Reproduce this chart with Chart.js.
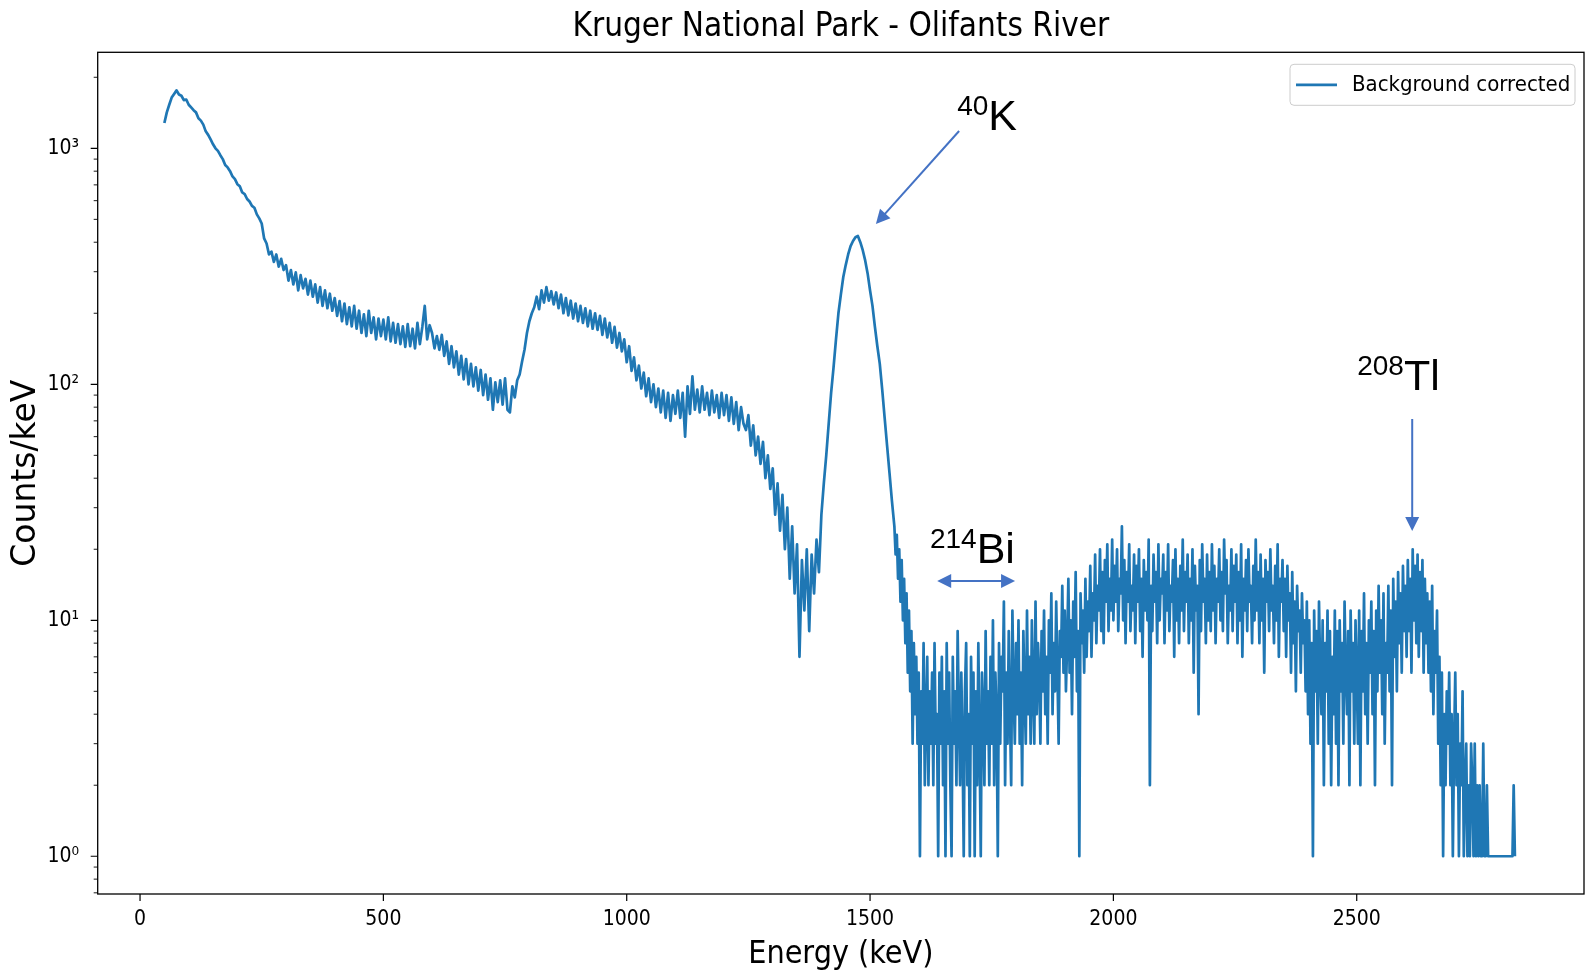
<!DOCTYPE html>
<html>
<head>
<meta charset="utf-8">
<script src="https://cdn.jsdelivr.net/npm/chart.js@4.4.1/dist/chart.umd.min.js"></script>
<style>
html,body{margin:0;padding:0;background:#fff;}
canvas{display:block;}
</style>
</head>
<body>
<canvas id="c" width="1585" height="976"></canvas>
<script>
// ---------------- DATA ----------------
const chartTitle = 'Kruger National Park - Olifants River';
const xAxisTitle = 'Energy (keV)';
const yAxisTitle = 'Counts/keV';
const seriesLabel = 'Background corrected';

const energies = [
50,55,60,65,70,75,80,85,90,95,
100,105,110,115,120,125,130,135,140,145,
150,155,160,165,170,175,180,185,190,195,
200,205,210,215,220,225,230,235,240,245,
250,255,260,265,270,275,280,285,290,295,
300,305,310,315,320,325,330,335,340,345,
350,355,360,365,370,375,380,385,390,395,
400,405,410,415,420,425,430,435,440,445,
450,455,460,465,470,475,480,485,490,495,
500,505,510,515,520,525,530,535,540,545,
550,555,560,565,570,575,580,585,590,595,
600,605,610,615,620,625,630,635,640,645,
650,655,660,665,670,675,680,685,690,695,
700,705,710,715,720,725,730,735,740,745,
750,755,760,765,770,775,780,785,790,795,
800,805,810,815,820,825,830,835,840,845,
850,855,860,865,870,875,880,885,890,895,
900,905,910,915,920,925,930,935,940,945,
950,955,960,965,970,975,980,985,990,995,
1000,1005,1010,1015,1020,1025,1030,1035,1040,1045,
1050,1055,1060,1065,1070,1075,1080,1085,1090,1095,
1100,1105,1110,1115,1120,1125,1130,1135,1140,1145,
1150,1155,1160,1165,1170,1175,1180,1185,1190,1195,
1200,1205,1210,1215,1220,1225,1230,1235,1240,1245,
1250,1255,1260,1265,1270,1275,1280,1285,1290,1295,
1300,1305,1310,1315,1320,1325,1330,1335,1340,1345,
1350,1355,1360,1365,1370,1375,1380,1385,1390,1395,
1400,1405,1410,1415,1420,1425,1430,1435,1440,1445,
1450,1455,1460,1465,1470,1475,1480,1485,1490,1495,
1500,1505,1510,1515,1520,1525,1530,1535,1540,1545,
1550,1552.5,1555,1557.5,1560,1562.5,1565,1567.5,1570,1572.5,1575,1577.5,1580,1582.5,1585,1587.5,1590,1592.5,1595,1597.5,
1600,1602.5,1605,1607.5,1610,1612.5,1615,1617.5,1620,1622.5,1625,1627.5,1630,1632.5,1635,1637.5,1640,1642.5,1645,1647.5,
1650,1652.5,1655,1657.5,1660,1662.5,1665,1667.5,1670,1672.5,1675,1677.5,1680,1682.5,1685,1687.5,1690,1692.5,1695,1697.5,
1700,1702.5,1705,1707.5,1710,1712.5,1715,1717.5,1720,1722.5,1725,1727.5,1730,1732.5,1735,1737.5,1740,1742.5,1745,1747.5,
1750,1752.5,1755,1757.5,1760,1762.5,1765,1767.5,1770,1772.5,1775,1777.5,1780,1782.5,1785,1787.5,1790,1792.5,1795,1797.5,
1800,1802.5,1805,1807.5,1810,1812.5,1815,1817.5,1820,1822.5,1825,1827.5,1830,1832.5,1835,1837.5,1840,1842.5,1845,1847.5,
1850,1852.5,1855,1857.5,1860,1862.5,1865,1867.5,1870,1872.5,1875,1877.5,1880,1882.5,1885,1887.5,1890,1892.5,1895,1897.5,
1900,1902.5,1905,1907.5,1910,1912.5,1915,1917.5,1920,1922.5,1925,1927.5,1930,1932.5,1935,1937.5,1940,1942.5,1945,1947.5,
1950,1952.5,1955,1957.5,1960,1962.5,1965,1967.5,1970,1972.5,1975,1977.5,1980,1982.5,1985,1987.5,1990,1992.5,1995,1997.5,
2000,2002.5,2005,2007.5,2010,2012.5,2015,2017.5,2020,2022.5,2025,2027.5,2030,2032.5,2035,2037.5,2040,2042.5,2045,2047.5,
2050,2052.5,2055,2057.5,2060,2062.5,2065,2067.5,2070,2072.5,2075,2077.5,2080,2082.5,2085,2087.5,2090,2092.5,2095,2097.5,
2100,2102.5,2105,2107.5,2110,2112.5,2115,2117.5,2120,2122.5,2125,2127.5,2130,2132.5,2135,2137.5,2140,2142.5,2145,2147.5,
2150,2152.5,2155,2157.5,2160,2162.5,2165,2167.5,2170,2172.5,2175,2177.5,2180,2182.5,2185,2187.5,2190,2192.5,2195,2197.5,
2200,2202.5,2205,2207.5,2210,2212.5,2215,2217.5,2220,2222.5,2225,2227.5,2230,2232.5,2235,2237.5,2240,2242.5,2245,2247.5,
2250,2252.5,2255,2257.5,2260,2262.5,2265,2267.5,2270,2272.5,2275,2277.5,2280,2282.5,2285,2287.5,2290,2292.5,2295,2297.5,
2300,2302.5,2305,2307.5,2310,2312.5,2315,2317.5,2320,2322.5,2325,2327.5,2330,2332.5,2335,2337.5,2340,2342.5,2345,2347.5,
2350,2352.5,2355,2357.5,2360,2362.5,2365,2367.5,2370,2372.5,2375,2377.5,2380,2382.5,2385,2387.5,2390,2392.5,2395,2397.5,
2400,2402.5,2405,2407.5,2410,2412.5,2415,2417.5,2420,2422.5,2425,2427.5,2430,2432.5,2435,2437.5,2440,2442.5,2445,2447.5,
2450,2452.5,2455,2457.5,2460,2462.5,2465,2467.5,2470,2472.5,2475,2477.5,2480,2482.5,2485,2487.5,2490,2492.5,2495,2497.5,
2500,2502.5,2505,2507.5,2510,2512.5,2515,2517.5,2520,2522.5,2525,2527.5,2530,2532.5,2535,2537.5,2540,2542.5,2545,2547.5,
2550,2552.5,2555,2557.5,2560,2562.5,2565,2567.5,2570,2572.5,2575,2577.5,2580,2582.5,2585,2587.5,2590,2592.5,2595,2597.5,
2600,2602.5,2605,2607.5,2610,2612.5,2615,2617.5,2620,2622.5,2625,2627.5,2630,2632.5,2635,2637.5,2640,2642.5,2645,2647.5,
2650,2652.5,2655,2657.5,2660,2662.5,2665,2667.5,2670,2672.5,2675,2677.5,2680,2682.5,2685,2687.5,2690,2692.5,2695,2697.5,
2700,2702.5,2705,2707.5,2710,2712.5,2715,2717.5,2720,2722.5,2725,2727.5,2730,2732.5,2735,2737.5,2740,2742.5,2745,2747.5,
2750,2752.5,2755,2757.5,2760,2762.5,2765,2767.5,2770,2772.5,2775,2777.5,2780,2782.5,2785,2787.5,2790,2792.5,2795,2797.5,
2800,2802.5,2805,2807.5,2810,2812.5,2815,2817.5,2820,2822.5,2825
];

const counts = [
1280,1420,1530,1640,1700,1760,1690,1670,1600,1610,
1530,1490,1450,1420,1340,1310,1260,1180,1140,1090,
1040,1000,975,935,900,850,830,800,760,740,
705,690,650,640,610,595,570,560,525,505,
480,415,395,355,365,330,355,315,340,305,
320,275,305,265,298,250,290,255,280,240,
275,235,265,222,258,215,250,210,242,205,
232,195,225,185,220,180,212,176,215,172,
205,165,198,160,205,165,192,155,190,160,
188,155,192,152,182,150,180,148,176,144,
180,145,172,142,182,148,175,215,155,178,
165,142,160,140,162,132,152,122,145,118,
138,110,132,105,128,100,122,98,118,94,
115,90,110,86,106,78,102,84,104,82,
106,78,76,98,88,104,110,125,140,165,
185,200,212,235,208,250,222,258,226,248,
218,245,210,240,200,232,196,226,190,220,
185,215,182,210,176,205,172,200,170,195,
162,190,158,182,150,175,143,165,138,155,
124,145,114,130,104,120,96,112,89,106,
84,100,80,96,76,94,72,92,70,90,
75,94,72,92,60,98,75,108,78,95,
76,98,78,92,74,94,76,90,72,92,
74,90,70,88,68,84,64,80,68,64,
74,55,67,50,60,46,57,40,50,36,
44,28,38,24,34,20,30,15,25,13,
21,7,18,11,20,9,19,13,22,16,
28,38,50,68,92,118,155,200,240,285,
320,355,385,405,420,425,400,370,335,295,
250,215,175,145,122,95,72,55,42,32,
25,19,23,15,20,12,18,10,15,8,13,6,11,5,9,3,8,4,7,3,
6,1,5,3,8,2,4,7,2,5,3,6,2,8,3,4,1,6,3,7,
2,5,1,8,3,6,2,1,7,3,5,2,9,4,2,6,3,1,5,8,
2,4,1,7,3,6,1,5,2,8,3,1,6,4,2,9,3,5,2,7,
3,10,2,6,4,1,8,3,7,5,12,2,6,3,9,4,2,11,5,3,
8,4,10,3,6,2,9,5,3,11,4,7,3,10,5,3,12,4,8,6,
3,9,5,11,4,7,3,10,6,13,4,8,5,12,6,3,9,7,14,6,
11,5,8,15,6,10,4,12,7,16,5,9,1,13,8,11,6,15,7,12,
9,17,7,13,10,19,8,14,11,20,9,16,8,18,12,21,9,15,11,22,
10,17,12,20,9,15,13,25,10,18,8,16,12,21,9,14,11,19,8,17,
12,20,9,15,7,18,11,16,10,22,2,14,9,19,12,16,8,21,10,15,
13,19,8,16,11,21,9,14,12,18,7,20,10,15,8,17,11,22,9,16,
12,19,8,15,10,20,6,17,11,14,4,18,9,21,12,15,8,19,10,16,
9,21,11,17,8,15,12,20,10,16,9,22,13,18,8,14,11,20,9,17,
12,19,8,16,10,21,7,15,11,18,9,20,12,14,8,17,10,22,11,16,
8,19,10,15,6,18,12,16,9,20,11,14,8,17,10,21,7,15,12,18,
9,15,7,17,10,13,6,16,8,12,5,14,9,11,6,13,8,10,5,12,
4,10,3,8,1,11,5,9,3,12,6,4,10,2,8,5,11,3,9,2,
7,4,11,3,9,2,10,5,8,3,12,6,4,9,2,11,5,8,3,10,
6,3,11,2,9,5,13,4,8,3,10,6,12,4,9,2,11,5,14,6,
10,4,13,3,8,6,14,5,11,2,15,7,12,5,16,8,13,6,17,9,
14,7,18,9,15,6,20,10,17,8,19,7,16,9,18,6,15,8,13,6,
12,5,14,4,9,6,11,3,7,2,6,1,4,2,5,3,6,2,4,1,
3,6,2,4,1,3,2,5,1,2,3,1,2,1,3,2,1,3,1,2,
1,2,1,1,3,1,1,2,1,1,1,1,1,1,1,1,1,1,1,1,
1,1,1,1,1,1,1,1,1,2,1
];

const xTicks = [0, 500, 1000, 1500, 2000, 2500];
const xTickLabels = ['0', '500', '1000', '1500', '2000', '2500'];
const yMajorTicks = [1, 10, 100, 1000];
const yMajorTickLabels = ['10\u2070', '10\u00B9', '10\u00B2', '10\u00B3'];
const yMinorTicks = [0.7,0.8,0.9,2,3,4,5,6,7,8,9,20,30,40,50,60,70,80,90,200,300,400,500,600,700,800,900,2000];

// annotations (isotope labels) anchored in data coordinates
const isoSup = ['40', '214', '208'];
const isoMain = ['K', 'Bi', 'Tl'];
const isoAnchorE = [1679, 1623, 2501];
const isoAnchorV = [1195, 17.5, 94.6];
const arrowFromE = [1683, 1638, 2614];
const arrowFromV = [1184, 14.67, 71.3];
const arrowToE = [1512, 1798, 2614];
const arrowToV = [478, 14.67, 23.9];
const arrowDouble = [false, true, false];

if (energies.length !== counts.length) throw new Error('length mismatch ' + energies.length + ' vs ' + counts.length);

// ---------------- FONTS ----------------
function fontAvailable(name) {
  const c = document.createElement('canvas').getContext('2d');
  const s = 'Kruger National Park 0123456789';
  c.font = '40px monospace';
  const a = c.measureText(s).width;
  c.font = '40px "' + name + '", monospace';
  const b = c.measureText(s).width;
  return Math.abs(a - b) > 0.5;
}
const COND = fontAvailable('DejaVu Sans Condensed');
const hFamily = COND ? '"DejaVu Sans Condensed", "DejaVu Sans", sans-serif' : '"DejaVu Sans", sans-serif';
const vFamily = '"DejaVu Sans", sans-serif';
const SZ = COND ? {title: 33, xlabel: 32, ticks: 21, legend: 22} : {title: 29, xlabel: 29, ticks: 19, legend: 20};

const LINE_COLOR = '#1f77b4';
const ARROW_COLOR = '#4472C4';

// ---------------- DECORATION PLUGIN ----------------
function arrowHead(ctx, x0, y0, x1, y1, len, half) {
  const ang = Math.atan2(y1 - y0, x1 - x0);
  ctx.beginPath();
  ctx.moveTo(x1, y1);
  ctx.lineTo(x1 - len * Math.cos(ang) + half * Math.sin(ang), y1 - len * Math.sin(ang) - half * Math.cos(ang));
  ctx.lineTo(x1 - len * Math.cos(ang) - half * Math.sin(ang), y1 - len * Math.sin(ang) + half * Math.cos(ang));
  ctx.closePath();
  ctx.fill();
}

const decor = {
  id: 'decor',
  afterDraw(chart) {
    const {ctx, chartArea: a, scales: {x, y}} = chart;
    ctx.save();
    // spines
    ctx.strokeStyle = '#000';
    ctx.lineWidth = 1.3;
    ctx.strokeRect(a.left, a.top, a.right - a.left, a.bottom - a.top);
    // major ticks
    ctx.lineWidth = 1.2;
    ctx.beginPath();
    xTicks.forEach(v => { const p = x.getPixelForValue(v); ctx.moveTo(p, a.bottom); ctx.lineTo(p, a.bottom + 7); });
    yMajorTicks.forEach(v => { const p = y.getPixelForValue(v); ctx.moveTo(a.left, p); ctx.lineTo(a.left - 7, p); });
    ctx.stroke();
    // minor ticks
    ctx.lineWidth = 0.9;
    ctx.beginPath();
    yMinorTicks.forEach(v => { const p = y.getPixelForValue(v); ctx.moveTo(a.left, p); ctx.lineTo(a.left - 4, p); });
    ctx.stroke();

    // legend
    const lw = 285, lh = 41;
    const lx = a.right - 9 - lw, ly = a.top + 12;
    ctx.beginPath();
    ctx.roundRect(lx, ly, lw, lh, 4);
    ctx.fillStyle = 'rgba(255,255,255,0.85)';
    ctx.fill();
    ctx.strokeStyle = '#cccccc';
    ctx.lineWidth = 1;
    ctx.stroke();
    const ds = chart.data.datasets[0];
    ctx.strokeStyle = ds.borderColor;
    ctx.lineWidth = 2.7;
    ctx.beginPath();
    ctx.moveTo(lx + 6, ly + lh / 2);
    ctx.lineTo(lx + 47, ly + lh / 2);
    ctx.stroke();
    ctx.fillStyle = '#000';
    ctx.font = SZ.legend + 'px ' + hFamily;
    ctx.textBaseline = 'middle';
    ctx.textAlign = 'left';
    ctx.fillText(ds.label, lx + 62, ly + lh / 2);

    // isotope labels
    ctx.fillStyle = '#000';
    ctx.textBaseline = 'alphabetic';
    for (let i = 0; i < isoSup.length; i++) {
      const px = x.getPixelForValue(isoAnchorE[i]);
      const py = y.getPixelForValue(isoAnchorV[i]);
      ctx.font = '28px "Liberation Sans", Arial, sans-serif';
      ctx.fillText(isoSup[i], px, py - 15);
      const w = ctx.measureText(isoSup[i]).width;
      ctx.font = '43px "Liberation Sans", Arial, sans-serif';
      ctx.fillText(isoMain[i], px + w, py);
    }
    // arrows
    ctx.strokeStyle = ARROW_COLOR;
    ctx.fillStyle = ARROW_COLOR;
    ctx.lineWidth = 2;
    for (let i = 0; i < arrowFromE.length; i++) {
      const x0 = x.getPixelForValue(arrowFromE[i]), y0 = y.getPixelForValue(arrowFromV[i]);
      const x1 = x.getPixelForValue(arrowToE[i]), y1 = y.getPixelForValue(arrowToV[i]);
      const len = 14, half = 7;
      const d = Math.hypot(x1 - x0, y1 - y0);
      const ux = (x1 - x0) / d, uy = (y1 - y0) / d;
      const sx = arrowDouble[i] ? x0 + ux * len * 0.8 : x0;
      const sy = arrowDouble[i] ? y0 + uy * len * 0.8 : y0;
      ctx.beginPath();
      ctx.moveTo(sx, sy);
      ctx.lineTo(x1 - ux * len * 0.8, y1 - uy * len * 0.8);
      ctx.stroke();
      arrowHead(ctx, x0, y0, x1, y1, len, half);
      if (arrowDouble[i]) arrowHead(ctx, x1, y1, x0, y0, len, half);
    }
    ctx.restore();
  }
};

// ---------------- CHART ----------------
const ctx = document.getElementById('c').getContext('2d');
new Chart(ctx, {
  type: 'line',
  data: {
    datasets: [{
      label: seriesLabel,
      data: energies.map((e, i) => ({x: e, y: counts[i]})),
      borderColor: LINE_COLOR,
      backgroundColor: LINE_COLOR,
      borderWidth: 2.7,
      borderJoinStyle: 'round',
      pointRadius: 0,
      tension: 0,
      fill: false
    }]
  },
  options: {
    responsive: false,
    animation: false,
    devicePixelRatio: 1,
    layout: {padding: {left: 0, right: 1, top: 0, bottom: 0}},
    plugins: {
      legend: {display: false},
      tooltip: {enabled: false},
      title: {
        display: true,
        fullSize: false,
        text: chartTitle,
        color: '#000',
        font: {family: hFamily, size: SZ.title, weight: 'normal'},
        padding: {top: 7.4, bottom: 5.3}
      }
    },
    scales: {
      x: {
        type: 'linear',
        min: -87,
        max: 2967,
        grid: {display: false, drawTicks: false},
        border: {display: false},
        ticks: {
          autoSkip: false,
          maxRotation: 0,
          color: '#000',
          padding: 12.8,
          font: {family: hFamily, size: SZ.ticks},
          callback: (v) => { const i = xTicks.indexOf(v); return i >= 0 ? xTickLabels[i] : ''; }
        },
        title: {
          display: true,
          text: xAxisTitle,
          color: '#000',
          font: {family: hFamily, size: SZ.xlabel},
          padding: {top: 0, bottom: 2.0}
        },
        afterBuildTicks: (s) => { s.ticks = xTicks.map(v => ({value: v})); },
        afterFit: (s) => { s.height = 82; }
      },
      y: {
        type: 'logarithmic',
        min: 0.692,
        max: 2552,
        grid: {display: false, drawTicks: false},
        border: {display: false},
        ticks: {
          autoSkip: false,
          color: '#000',
          padding: 18.7,
          font: {family: hFamily, size: SZ.ticks},
          callback: (v) => { const i = yMajorTicks.indexOf(v); return i >= 0 ? yMajorTickLabels[i] : ''; }
        },
        title: {
          display: true,
          text: yAxisTitle,
          color: '#000',
          font: {family: vFamily, size: 33},
          padding: {top: 6.5, bottom: 0}
        },
        afterBuildTicks: (s) => {
          s.ticks = yMajorTicks.concat(yMinorTicks).sort((p, q) => p - q).map(v => ({value: v, major: yMajorTicks.includes(v)}));
        },
        afterFit: (s) => { s.width = 97.7; }
      }
    }
  },
  plugins: [decor]
});
</script>
</body>
</html>
